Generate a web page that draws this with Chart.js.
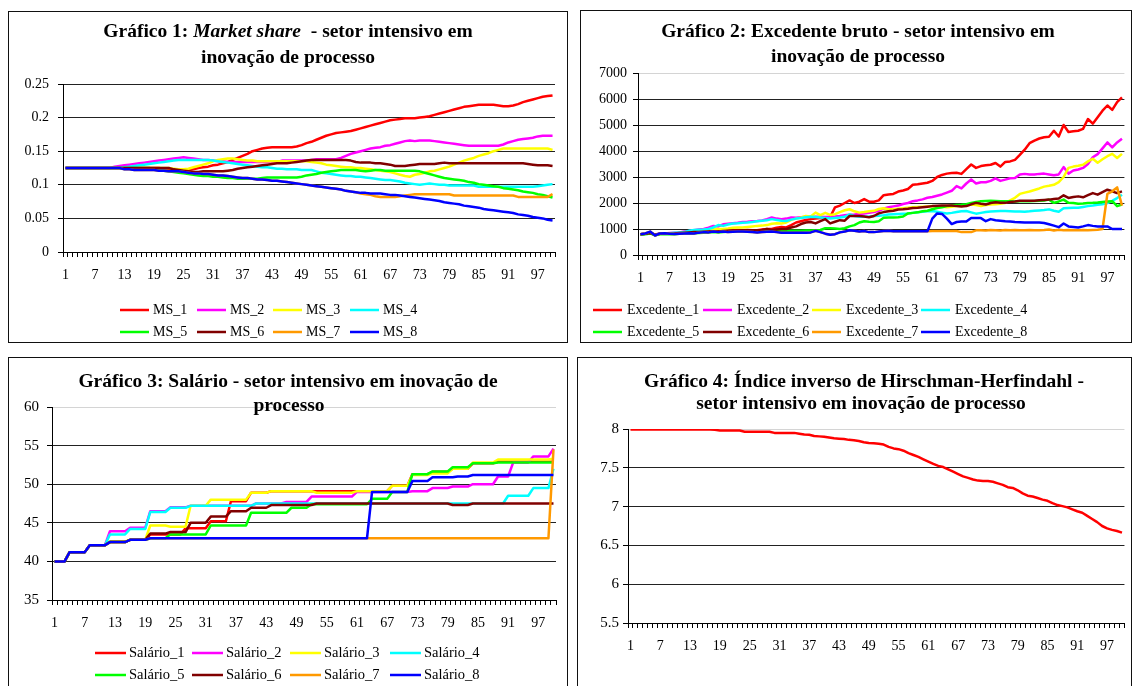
<!DOCTYPE html>
<html>
<head>
<meta charset="utf-8">
<script src="https://cdn.jsdelivr.net/npm/chart.js@4.4.1/dist/chart.umd.min.js"></script>
<style>
  html, body { margin: 0; padding: 0; background: #fff; }
  body { width: 1133px; height: 686px; position: relative; overflow: hidden; }
  .panel { position: absolute; outline: 1.5px solid #111; outline-offset: -1px; background: #fff; }
  .panel canvas { position: absolute; left: 0; top: 0; }
</style>
</head>
<body>
<div class="panel" style="left:8px;top:11px;width:560px;height:332px"><canvas id="c1" width="560" height="332"></canvas></div>
<div class="panel" style="left:580px;top:10px;width:552px;height:333px"><canvas id="c2" width="552" height="333"></canvas></div>
<div class="panel" style="left:8px;top:357px;width:560px;height:335px"><canvas id="c3" width="560" height="335"></canvas></div>
<div class="panel" style="left:577px;top:357px;width:555px;height:335px"><canvas id="c4" width="555" height="335"></canvas></div>

<script>
// ---------- categories (simulation periods) ----------
const periods = [
  1,2,3,4,5,6,7,8,9,10,11,12,13,14,15,16,17,18,19,20,
  21,22,23,24,25,26,27,28,29,30,31,32,33,34,35,36,37,38,39,40,
  41,42,43,44,45,46,47,48,49,50,51,52,53,54,55,56,57,58,59,60,
  61,62,63,64,65,66,67,68,69,70,71,72,73,74,75,76,77,78,79,80,
  81,82,83,84,85,86,87,88,89,90,91,92,93,94,95,96,97,98,99,100];

// ---------- y-axis tick values ----------
const msTicks  = [0, 0.05, 0.1, 0.15, 0.2, 0.25];
const excTicks = [0, 1000, 2000, 3000, 4000, 5000, 6000, 7000];
const salTicks = [35, 40, 45, 50, 55, 60];
const ihhTicks = [5.5, 6, 6.5, 7, 7.5, 8];

// ---------- series names ----------
const msNames  = ['MS_1','MS_2','MS_3','MS_4','MS_5','MS_6','MS_7','MS_8'];
const excNames = ['Excedente_1','Excedente_2','Excedente_3','Excedente_4','Excedente_5','Excedente_6','Excedente_7','Excedente_8'];
const salNames = ['Salário_1','Salário_2','Salário_3','Salário_4','Salário_5','Salário_6','Salário_7','Salário_8'];

// ---------- Gráfico 1: market share ----------
const ms1 = [
0.125,0.125,0.125,0.125,0.125,0.125,0.125,0.125,0.125,0.125,
0.125,0.125,0.125,0.125,0.125,0.125,0.125,0.125,0.125,0.125,
0.124,0.124,0.123,0.122,0.122,0.122,0.123,0.125,0.126,0.127,
0.129,0.130,0.132,0.134,0.137,0.140,0.143,0.146,0.150,0.152,
0.154,0.155,0.156,0.156,0.156,0.156,0.156,0.157,0.159,0.162,
0.164,0.167,0.170,0.173,0.175,0.177,0.178,0.179,0.180,0.182,
0.184,0.186,0.188,0.190,0.192,0.194,0.196,0.197,0.198,0.199,
0.199,0.199,0.200,0.201,0.202,0.204,0.206,0.208,0.210,0.212,
0.214,0.216,0.217,0.218,0.219,0.219,0.219,0.219,0.218,0.217,
0.217,0.218,0.220,0.223,0.225,0.227,0.229,0.231,0.232,0.233];
const ms2 = [
0.125,0.125,0.125,0.125,0.125,0.125,0.125,0.125,0.125,0.125,
0.127,0.128,0.129,0.130,0.131,0.132,0.133,0.134,0.135,0.136,
0.137,0.138,0.139,0.140,0.141,0.140,0.139,0.138,0.137,0.137,
0.136,0.135,0.135,0.134,0.134,0.134,0.134,0.134,0.134,0.134,
0.134,0.134,0.134,0.134,0.136,0.136,0.136,0.136,0.136,0.136,
0.137,0.138,0.138,0.138,0.138,0.138,0.140,0.143,0.146,0.148,
0.150,0.152,0.154,0.155,0.156,0.158,0.159,0.161,0.163,0.165,
0.166,0.165,0.166,0.166,0.166,0.165,0.164,0.163,0.162,0.161,
0.160,0.159,0.158,0.158,0.158,0.158,0.158,0.158,0.158,0.160,
0.163,0.165,0.167,0.168,0.169,0.170,0.172,0.173,0.173,0.173];
const ms3 = [
0.125,0.125,0.125,0.125,0.125,0.125,0.125,0.125,0.125,0.125,
0.125,0.125,0.125,0.125,0.125,0.125,0.125,0.125,0.125,0.125,
0.125,0.125,0.124,0.123,0.123,0.124,0.126,0.128,0.130,0.132,
0.135,0.137,0.138,0.139,0.139,0.138,0.137,0.136,0.136,0.135,
0.135,0.135,0.135,0.135,0.135,0.135,0.135,0.135,0.135,0.135,
0.134,0.133,0.132,0.130,0.129,0.128,0.127,0.126,0.126,0.125,
0.125,0.124,0.123,0.122,0.121,0.120,0.119,0.117,0.115,0.113,
0.112,0.115,0.116,0.118,0.120,0.121,0.123,0.125,0.127,0.130,
0.133,0.136,0.138,0.140,0.143,0.145,0.147,0.150,0.152,0.154,
0.154,0.154,0.154,0.154,0.154,0.154,0.154,0.154,0.154,0.152];
const ms4 = [
0.125,0.125,0.125,0.125,0.125,0.125,0.125,0.125,0.125,0.125,
0.125,0.125,0.126,0.127,0.128,0.129,0.130,0.131,0.132,0.133,
0.134,0.135,0.136,0.137,0.137,0.137,0.137,0.137,0.137,0.137,
0.136,0.135,0.134,0.133,0.132,0.131,0.130,0.129,0.128,0.127,
0.126,0.126,0.125,0.124,0.124,0.123,0.123,0.123,0.122,0.122,
0.122,0.120,0.118,0.117,0.116,0.115,0.114,0.113,0.113,0.112,
0.112,0.111,0.110,0.109,0.108,0.107,0.107,0.106,0.105,0.103,
0.102,0.101,0.100,0.101,0.102,0.101,0.100,0.100,0.099,0.099,
0.099,0.099,0.099,0.099,0.097,0.097,0.097,0.097,0.097,0.097,
0.097,0.097,0.097,0.097,0.097,0.097,0.098,0.099,0.100,0.101];
const ms5 = [
0.125,0.125,0.125,0.125,0.125,0.125,0.125,0.125,0.125,0.125,
0.125,0.125,0.125,0.125,0.125,0.125,0.125,0.125,0.124,0.122,
0.121,0.120,0.119,0.118,0.117,0.116,0.115,0.114,0.113,0.113,
0.112,0.112,0.111,0.110,0.110,0.109,0.109,0.109,0.109,0.109,
0.110,0.111,0.111,0.111,0.111,0.111,0.111,0.111,0.112,0.114,
0.115,0.116,0.118,0.119,0.120,0.121,0.122,0.122,0.122,0.122,
0.121,0.120,0.121,0.122,0.122,0.121,0.121,0.121,0.121,0.121,
0.121,0.121,0.120,0.118,0.116,0.114,0.112,0.110,0.109,0.108,
0.107,0.106,0.104,0.103,0.101,0.100,0.099,0.098,0.097,0.095,
0.094,0.093,0.092,0.090,0.089,0.088,0.086,0.085,0.083,0.081];
const ms6 = [
0.125,0.125,0.125,0.125,0.125,0.125,0.125,0.125,0.125,0.125,
0.125,0.125,0.125,0.125,0.125,0.125,0.125,0.125,0.125,0.125,
0.125,0.125,0.123,0.122,0.121,0.120,0.119,0.119,0.120,0.120,
0.120,0.120,0.120,0.121,0.122,0.124,0.125,0.126,0.127,0.128,
0.129,0.130,0.131,0.132,0.132,0.132,0.133,0.134,0.135,0.136,
0.137,0.137,0.137,0.137,0.137,0.137,0.137,0.137,0.136,0.134,
0.133,0.133,0.133,0.132,0.132,0.131,0.130,0.128,0.128,0.128,
0.129,0.130,0.131,0.131,0.131,0.131,0.132,0.133,0.132,0.132,
0.132,0.132,0.132,0.132,0.132,0.132,0.132,0.132,0.132,0.132,
0.132,0.132,0.132,0.132,0.131,0.130,0.129,0.129,0.129,0.128];
const ms7 = [
0.125,0.125,0.125,0.125,0.125,0.125,0.125,0.125,0.125,0.125,
0.125,0.125,0.123,0.123,0.122,0.122,0.122,0.122,0.122,0.121,
0.121,0.120,0.120,0.120,0.119,0.118,0.117,0.117,0.116,0.116,
0.115,0.114,0.114,0.113,0.112,0.111,0.110,0.110,0.109,0.108,
0.108,0.107,0.106,0.106,0.105,0.104,0.103,0.102,0.101,0.100,
0.099,0.098,0.097,0.096,0.095,0.094,0.093,0.091,0.090,0.089,
0.087,0.086,0.085,0.083,0.082,0.082,0.082,0.082,0.083,0.084,
0.085,0.086,0.086,0.086,0.086,0.086,0.086,0.086,0.086,0.084,
0.084,0.084,0.084,0.084,0.084,0.084,0.084,0.084,0.084,0.084,
0.084,0.084,0.082,0.082,0.082,0.082,0.082,0.082,0.082,0.086];
const ms8 = [
0.125,0.125,0.125,0.125,0.125,0.125,0.125,0.125,0.125,0.125,
0.125,0.125,0.123,0.123,0.122,0.122,0.122,0.122,0.122,0.121,
0.121,0.120,0.120,0.120,0.119,0.118,0.117,0.117,0.116,0.116,
0.115,0.114,0.114,0.113,0.112,0.111,0.110,0.110,0.109,0.108,
0.108,0.107,0.106,0.106,0.105,0.104,0.103,0.102,0.101,0.100,
0.099,0.098,0.097,0.096,0.095,0.094,0.093,0.091,0.090,0.089,
0.088,0.088,0.087,0.087,0.087,0.086,0.085,0.085,0.084,0.083,
0.082,0.081,0.080,0.079,0.078,0.077,0.076,0.074,0.073,0.072,
0.071,0.069,0.068,0.067,0.066,0.064,0.063,0.062,0.061,0.060,
0.059,0.058,0.056,0.055,0.054,0.052,0.051,0.050,0.048,0.047];

// ---------- Gráfico 2: gross surplus ----------
const exc1 = [
800,820,850,780,820,830,820,830,850,870,
880,900,900,920,930,950,940,950,940,950,
960,950,960,950,950,980,1000,1000,1050,1080,
1060,1150,1250,1300,1350,1380,1400,1420,1450,1460,
1830,1900,2000,2100,2000,2050,2150,2050,2050,2100,
2300,2330,2350,2440,2480,2540,2700,2720,2750,2780,
2850,3000,3080,3130,3150,3160,3120,3300,3480,3350,
3420,3450,3470,3540,3400,3580,3600,3660,3850,4050,
4300,4400,4480,4530,4550,4780,4560,5000,4730,4760,
4780,4850,5230,5050,5300,5550,5750,5580,5880,6060];
const exc2 = [
800,820,850,790,830,830,850,860,870,900,
920,950,980,1000,1050,1120,1100,1180,1200,1220,
1240,1270,1280,1300,1310,1330,1380,1440,1400,1380,
1400,1440,1430,1450,1460,1470,1470,1470,1460,1470,
1480,1500,1530,1550,1560,1580,1600,1620,1650,1700,
1780,1840,1870,1900,1960,2000,2070,2100,2140,2200,
2230,2280,2330,2400,2470,2650,2560,2750,2900,2750,
2800,2800,2850,2950,2850,2900,2950,2960,3100,3120,
3100,3100,3120,3130,3100,3070,3100,3380,3130,3250,
3290,3350,3500,3760,3880,4100,4330,4140,4330,4470];
const exc3 = [
800,820,850,780,820,830,820,830,850,870,
900,920,940,960,980,990,1000,1000,1020,1050,
1060,1060,1080,1100,1120,1130,1150,1200,1220,1210,
1250,1350,1400,1440,1500,1480,1630,1530,1620,1540,
1570,1650,1720,1760,1680,1630,1650,1680,1700,1770,
1800,1760,1760,1780,1800,1820,1840,1850,1860,1870,
1880,1870,1860,1840,1860,1880,1880,1900,1940,1920,
1880,1920,1940,1950,1970,2000,2100,2200,2350,2400,
2440,2500,2560,2630,2660,2700,2800,3000,3350,3400,
3430,3470,3600,3700,3550,3680,3800,3890,3730,3890];
const exc4 = [
800,820,850,780,820,830,840,860,870,880,
930,960,970,980,1000,1060,1150,1120,1170,1210,
1220,1240,1250,1270,1300,1320,1340,1380,1350,1320,
1310,1360,1400,1420,1450,1470,1460,1440,1420,1400,
1420,1440,1470,1560,1500,1470,1480,1470,1500,1510,
1530,1560,1570,1580,1590,1600,1620,1640,1660,1680,
1690,1660,1630,1600,1620,1650,1680,1690,1640,1590,
1620,1650,1670,1680,1690,1690,1680,1670,1670,1665,
1680,1700,1715,1730,1755,1700,1665,1800,1810,1815,
1820,1850,1880,1900,1930,1950,2000,2080,2190,2320];
const exc5 = [
780,800,830,760,800,810,800,800,820,830,
840,840,850,860,870,880,870,880,890,900,
900,900,900,900,910,910,920,920,930,930,
930,930,930,930,940,940,950,960,1030,1030,
1020,1000,1030,1100,1150,1250,1300,1280,1270,1300,
1430,1440,1440,1450,1480,1600,1620,1640,1680,1700,
1760,1810,1840,1880,1900,1920,1930,1950,2000,2040,
2070,2080,2090,2080,2070,2070,2070,2060,2070,2070,
2070,2080,2090,2100,2130,2005,2060,2130,2005,2000,
1970,1980,2000,2005,2020,2040,2060,2070,1880,1940];
const exc6 = [
800,820,850,780,820,830,820,830,850,860,
870,880,880,890,900,910,900,920,930,940,
940,950,950,950,950,960,1000,960,980,1000,
1000,1060,1100,1190,1250,1270,1215,1300,1380,1215,
1280,1340,1320,1500,1500,1500,1480,1450,1500,1600,
1650,1680,1700,1750,1760,1780,1810,1820,1840,1860,
1880,1890,1900,1905,1900,1880,1870,1880,1950,2005,
1970,1940,2000,2030,2010,2005,2040,2060,2090,2090,
2090,2090,2110,2120,2130,2150,2170,2295,2195,2230,
2255,2220,2300,2380,2320,2420,2510,2450,2380,2445];
const exc7 = [
800,830,900,750,830,840,820,810,820,830,
840,830,860,880,870,900,880,900,880,890,
900,900,890,880,870,880,890,900,880,860,
860,860,860,860,860,870,930,880,820,780,
800,870,900,950,930,900,920,880,880,900,
920,930,910,910,910,910,910,910,910,910,
920,920,920,920,920,920,880,880,880,950,
950,940,960,950,940,960,950,960,950,950,
960,950,950,960,980,940,970,950,960,950,
950,960,950,960,970,1000,2350,2450,2600,1900];
const exc8 = [
800,830,900,750,830,840,820,810,820,830,
840,830,860,880,870,900,880,900,880,890,
900,900,890,880,870,880,890,900,880,860,
860,860,860,860,860,870,930,880,820,780,
800,870,900,950,930,900,920,880,880,900,
920,930,910,910,910,910,910,910,910,910,
1400,1600,1580,1400,1190,1270,1290,1290,1420,1420,
1420,1300,1380,1340,1320,1300,1290,1270,1260,1250,
1250,1250,1250,1230,1180,1130,1070,1210,1100,1080,
1060,1100,1150,1120,1100,1100,1100,1000,1000,1000];

// ---------- Gráfico 3: wages ----------
const sal1 = [
40,40,40,41.2,41.2,41.2,41.2,42.1,42.1,42.1,
42.1,42.5,42.5,42.5,42.5,42.8,42.8,42.8,42.8,43.5,
43.5,43.5,43.5,43.5,43.5,43.5,44.3,44.3,44.3,44.3,
44.3,45.2,45.2,45.2,45.2,47.8,47.8,47.8,47.8,48.9,
48.9,48.9,48.9,49.1,49.1,49.1,49.1,49.1,49.1,49.1,
49.1,49.1,49.1,49.1,49.1,49.1,49.1,49.1,49.1,49.1,
49.1,49.1,49.1,49.1,49.1,49.1,49.1,49.8,49.8,49.8,
49.8,51.3,51.3,51.3,51.3,51.6,51.6,51.6,51.6,52,
52,52,52,52.7,52.7,52.7,52.7,52.7,52.9,52.9,
52.9,52.9,52.9,52.9,52.9,52.9,52.9,52.9,52.9,52.9];
const sal2 = [
40,40,40,41.2,41.2,41.2,41.2,42.1,42.1,42.1,
42.1,43.9,43.9,43.9,43.9,44.35,44.35,44.35,44.35,46.5,
46.5,46.5,46.5,47,47,47,47,47.2,47.2,47.2,
47.2,47.2,47.2,47.2,47.2,47.2,47.2,47.2,47.2,47.2,
47.5,47.5,47.5,47.5,47.5,47.5,47.7,47.7,47.7,47.7,
47.7,48.4,48.4,48.4,48.4,48.4,48.4,48.4,48.4,48.4,
49,49,49,49,49,49,49,49,49,49,
49,49.1,49.1,49.1,49.1,49.5,49.5,49.5,49.5,49.7,
49.7,49.7,49.7,50,50,50,50,50,51,51,
51,52.8,52.8,52.8,52.8,53.6,53.6,53.6,53.6,54.6];
const sal3 = [
40,40,40,41.2,41.2,41.2,41.2,42.1,42.1,42.1,
42.1,42.6,42.6,42.6,42.6,42.8,42.8,42.8,42.8,44.65,
44.65,44.65,44.65,44.5,44.5,44.5,44.5,47.2,47.2,47.2,
47.2,48,48,48,48,48,48,48,48,48.9,
48.9,48.9,48.9,49.1,49.1,49.1,49.1,49.1,49.1,49.1,
49.1,49.1,48.9,48.9,48.9,48.9,48.9,48.9,48.9,48.9,
49.1,49.1,49.1,49.1,49.1,49.1,49.1,49.8,49.8,49.8,
49.8,51.2,51.2,51.2,51.2,51.4,51.4,51.4,51.4,52,
52,52,52,52.8,52.8,52.8,52.8,52.8,53.2,53.2,
53.2,53.2,53.2,53.2,53.2,53.2,53.2,53.2,53.2,53.3];
const sal4 = [
40,40,40,41.2,41.2,41.2,41.2,42.1,42.1,42.1,
42.1,43.5,43.5,43.5,43.5,44.2,44.2,44.2,44.2,46.4,
46.4,46.4,46.4,46.95,46.95,46.95,46.95,47.2,47.2,47.2,
47.2,47.2,47.2,47.2,47.2,47.2,47.2,47.2,47.2,47.2,
47.5,47.5,47.5,47.5,47.5,47.5,47.5,47.5,47.5,47.5,
47.5,47.5,47.5,47.5,47.5,47.5,47.5,47.5,47.5,47.5,
47.5,47.5,47.5,47.5,47.5,47.5,47.5,47.5,47.5,47.5,
47.5,47.5,47.5,47.5,47.5,47.5,47.5,47.5,47.5,47.5,
47.5,47.5,47.5,47.5,47.5,47.5,47.5,47.5,47.5,47.5,
48.5,48.5,48.5,48.5,48.5,49.5,49.5,49.5,49.5,52];
const sal5 = [
40,40,40,41.2,41.2,41.2,41.2,42.1,42.1,42.1,
42.1,42.5,42.5,42.5,42.5,42.8,42.8,42.8,42.8,43,
43,43,43,43.5,43.5,43.5,43.5,43.5,43.5,43.5,
43.5,44.65,44.65,44.65,44.65,44.65,44.65,44.65,44.65,46.3,
46.3,46.3,46.3,46.3,46.3,46.3,46.3,46.95,46.95,46.95,
46.95,47.4,47.4,47.4,47.4,47.4,47.4,47.4,47.4,47.4,
47.4,47.4,47.4,48.1,48.1,48.1,48.1,49,49,49,
49,51.3,51.3,51.3,51.3,51.65,51.65,51.65,51.65,52.2,
52.2,52.2,52.2,52.7,52.7,52.7,52.7,52.7,52.8,52.8,
52.8,52.8,52.8,52.8,52.8,52.8,52.8,52.8,52.8,52.8];
const sal6 = [
40,40,40,41.2,41.2,41.2,41.2,42.1,42.1,42.1,
42.1,42.5,42.5,42.5,42.5,42.8,42.8,42.8,42.8,43.6,
43.6,43.6,43.6,43.8,43.8,43.8,43.8,45,45,45,
45,45.8,45.8,45.8,45.8,46.5,46.5,46.5,46.5,46.95,
46.95,46.95,46.95,47.3,47.3,47.3,47.3,47.3,47.3,47.3,
47.3,47.3,47.5,47.5,47.5,47.5,47.5,47.5,47.5,47.5,
47.5,47.5,47.5,47.5,47.5,47.5,47.5,47.5,47.5,47.5,
47.5,47.5,47.5,47.5,47.5,47.5,47.5,47.5,47.5,47.3,
47.3,47.3,47.3,47.5,47.5,47.5,47.5,47.5,47.5,47.5,
47.5,47.5,47.5,47.5,47.5,47.5,47.5,47.5,47.5,47.5];
const sal7 = [
40,40,40,41.2,41.2,41.2,41.2,42.1,42.1,42.1,
42.1,42.5,42.5,42.5,42.5,42.8,42.8,42.8,42.8,43,
43,43,43,43,43,43,43,43,43,43,
43,43,43,43,43,43,43,43,43,43,
43,43,43,43,43,43,43,43,43,43,
43,43,43,43,43,43,43,43,43,43,
43,43,43,43,43,43,43,43,43,43,
43,43,43,43,43,43,43,43,43,43,
43,43,43,43,43,43,43,43,43,43,
43,43,43,43,43,43,43,43,43,54.5];
const sal8 = [
40,40,40,41.2,41.2,41.2,41.2,42.1,42.1,42.1,
42.1,42.5,42.5,42.5,42.5,42.8,42.8,42.8,42.8,43,
43,43,43,43,43,43,43,43,43,43,
43,43,43,43,43,43,43,43,43,43,
43,43,43,43,43,43,43,43,43,43,
43,43,43,43,43,43,43,43,43,43,
43,43,43,49,49,49,49,49,49,49,
49,50.4,50.4,50.4,50.4,50.9,50.9,50.9,50.9,50.9,
51,51,51,51.2,51.2,51.2,51.2,51.2,51.2,51.2,
51.2,51.2,51.2,51.2,51.2,51.2,51.2,51.2,51.2,51.2];

// ---------- Gráfico 4: inverse Herfindahl index ----------
const ihh = [
7.995,7.995,7.995,7.995,7.995,7.995,7.995,7.995,7.995,7.995,
7.995,7.995,7.995,7.995,7.995,7.995,7.995,7.99,7.98,7.98,
7.98,7.98,7.98,7.965,7.965,7.965,7.965,7.965,7.965,7.95,
7.95,7.95,7.95,7.95,7.94,7.93,7.925,7.91,7.905,7.90,
7.89,7.88,7.875,7.87,7.86,7.855,7.845,7.83,7.82,7.815,
7.81,7.80,7.77,7.75,7.74,7.72,7.69,7.665,7.64,7.61,
7.58,7.55,7.525,7.51,7.48,7.45,7.42,7.39,7.37,7.35,
7.335,7.33,7.33,7.32,7.30,7.28,7.25,7.24,7.21,7.17,
7.14,7.13,7.11,7.09,7.075,7.045,7.02,7.006,6.99,6.965,
6.94,6.92,6.88,6.84,6.80,6.75,6.72,6.70,6.685,6.665];

// ---------- styling ----------
const SERIF = '"Liberation Serif", "Times New Roman", serif';
const lineColors = ['#FF0000','#FF00FF','#FFFF00','#00FFFF','#00FF00','#800000','#FF9900','#0000FF'];

// Titles and legend drawn directly on the canvas
function decorations(titleLines, legendCfg) {
  return {
    id: 'decorations',
    afterDraw(chart) {
      const ctx = chart.ctx;
      ctx.save();
      ctx.fillStyle = '#000';
      ctx.textBaseline = 'middle';
      ctx.textAlign = 'left';
      titleLines.forEach(line => {
        let total = 0;
        line.parts.forEach(p => { ctx.font = p.font; total += ctx.measureText(p.text).width; });
        let x = line.cx - total / 2;
        line.parts.forEach(p => {
          ctx.font = p.font;
          ctx.fillText(p.text, x, line.cy);
          x += ctx.measureText(p.text).width;
        });
      });
      if (legendCfg) {
        const ds = chart.data.datasets;
        ctx.font = legendCfg.font;
        ds.forEach((d, k) => {
          const col = k % legendCfg.perRow;
          const row = Math.floor(k / legendCfg.perRow);
          const x = legendCfg.xs[col];
          const y = legendCfg.ys[row];
          ctx.strokeStyle = d.borderColor;
          ctx.lineWidth = 2.5;
          ctx.beginPath();
          ctx.moveTo(x, y);
          ctx.lineTo(x + legendCfg.lineLen, y);
          ctx.stroke();
          ctx.fillStyle = '#000';
          ctx.fillText(d.label, x + legendCfg.lineLen + legendCfg.gap, y);
        });
      }
      ctx.restore();
    }
  };
}

function buildChart(c) {
  const datasets = c.series.map((data, k) => ({
    label: c.names[k],
    data: data,
    borderColor: c.colors[k],
    backgroundColor: c.colors[k],
    borderWidth: 2.5,
    borderJoinStyle: 'round',
    pointRadius: 0,
    pointHoverRadius: 0,
    tension: 0,
    fill: false,
    order: c.series.length - k
  }));
  const yMax = c.yTicks[c.yTicks.length - 1];
  return new Chart(document.getElementById(c.canvas), {
    type: 'line',
    data: { labels: periods, datasets: datasets },
    options: {
      responsive: false,
      animation: false,
      devicePixelRatio: 1,
      events: [],
      layout: { padding: c.pad },
      plugins: { legend: { display: false }, title: { display: false }, tooltip: { enabled: false } },
      scales: {
        x: {
          type: 'category',
          offset: true,
          afterFit: s => { s.height = 30; },
          grid: { display: true, drawOnChartArea: false, drawTicks: true, tickLength: 5, offset: true, color: '#000', lineWidth: 1 },
          border: { display: true, color: '#000', width: 1 },
          ticks: {
            autoSkip: false, maxRotation: 0, minRotation: 0, padding: 10,
            color: '#000', font: { family: SERIF, size: c.xFont },
            callback: (v, i) => (i % 6 === 0 ? String(periods[i]) : '')
          }
        },
        y: {
          min: c.yTicks[0],
          max: yMax,
          afterFit: s => { s.width = c.yWidth; },
          afterBuildTicks: s => { s.ticks = c.yTicks.map(v => ({ value: v })); },
          grid: {
            color: ctx => (ctx.tick && ctx.tick.value === yMax && c.lightTop) ? '#d4d4d4' : '#222',
            lineWidth: 1, tickLength: 5, tickColor: '#000', drawTicks: true
          },
          border: { display: true, color: '#000', width: 1 },
          ticks: { padding: c.yPad, color: '#000', font: { family: SERIF, size: c.yFont }, callback: v => String(v) }
        }
      }
    },
    plugins: [decorations(c.title, c.legend)]
  });
}

const B = sz => 'bold ' + sz + 'px ' + SERIF;
const BI = sz => 'italic bold ' + sz + 'px ' + SERIF;
const TS = 19.5;

buildChart({
  canvas: 'c1', series: [ms1, ms2, ms3, ms4, ms5, ms6, ms7, ms8], names: msNames, colors: lineColors,
  yTicks: msTicks, yWidth: 55, yPad: 9, yFont: 14, xFont: 14, lightTop: false,
  pad: { left: 0, right: 13, top: 73, bottom: 61 },
  title: [
    { cx: 280, cy: 21, parts: [ { text: 'Gráfico 1: ', font: B(TS) }, { text: 'Market share', font: BI(TS) }, { text: '  - setor intensivo em', font: B(TS) } ] },
    { cx: 280, cy: 47, parts: [ { text: 'inovação de processo', font: B(TS) } ] }
  ],
  legend: { perRow: 4, xs: [112, 189, 265, 342], ys: [299, 321], lineLen: 29, gap: 4, font: '14px ' + SERIF }
});

buildChart({
  canvas: 'c2', series: [exc1, exc2, exc3, exc4, exc5, exc6, exc7, exc8], names: excNames, colors: lineColors,
  yTicks: excTicks, yWidth: 58, yPad: 6, yFont: 14, xFont: 14, lightTop: true,
  pad: { left: 0, right: 5, top: 63, bottom: 58 },
  title: [
    { cx: 278, cy: 22, parts: [ { text: 'Gráfico 2: Excedente bruto - setor intensivo em', font: B(TS) } ] },
    { cx: 278, cy: 47, parts: [ { text: 'inovação de processo', font: B(TS) } ] }
  ],
  legend: { perRow: 4, xs: [13, 123, 232, 341], ys: [300, 322], lineLen: 29, gap: 5, font: '14px ' + SERIF }
});

buildChart({
  canvas: 'c3', series: [sal1, sal2, sal3, sal4, sal5, sal6, sal7, sal8], names: salNames, colors: lineColors,
  yTicks: salTicks, yWidth: 44, yPad: 8, yFont: 15, xFont: 14, lightTop: true,
  pad: { left: 0, right: 12, top: 50, bottom: 62 },
  title: [
    { cx: 280, cy: 25, parts: [ { text: 'Gráfico 3: Salário - setor intensivo em inovação de', font: B(TS) } ] },
    { cx: 281, cy: 49, parts: [ { text: 'processo', font: B(TS) } ] }
  ],
  legend: { perRow: 4, xs: [87, 184, 282, 382], ys: [296, 318], lineLen: 31, gap: 3, font: '14.5px ' + SERIF }
});

buildChart({
  canvas: 'c4', series: [ihh], names: ['IHH'], colors: ['#FF0000'],
  yTicks: ihhTicks, yWidth: 51, yPad: 4, yFont: 15, xFont: 14, lightTop: true,
  pad: { left: 0, right: 4, top: 72, bottom: 39 },
  title: [
    { cx: 287, cy: 25, parts: [ { text: 'Gráfico 4: Índice inverso de Hirschman-Herfindahl -', font: B(TS) } ] },
    { cx: 284, cy: 47, parts: [ { text: 'setor intensivo em inovação de processo', font: B(TS) } ] }
  ],
  legend: null
});
</script>
</body>
</html>
